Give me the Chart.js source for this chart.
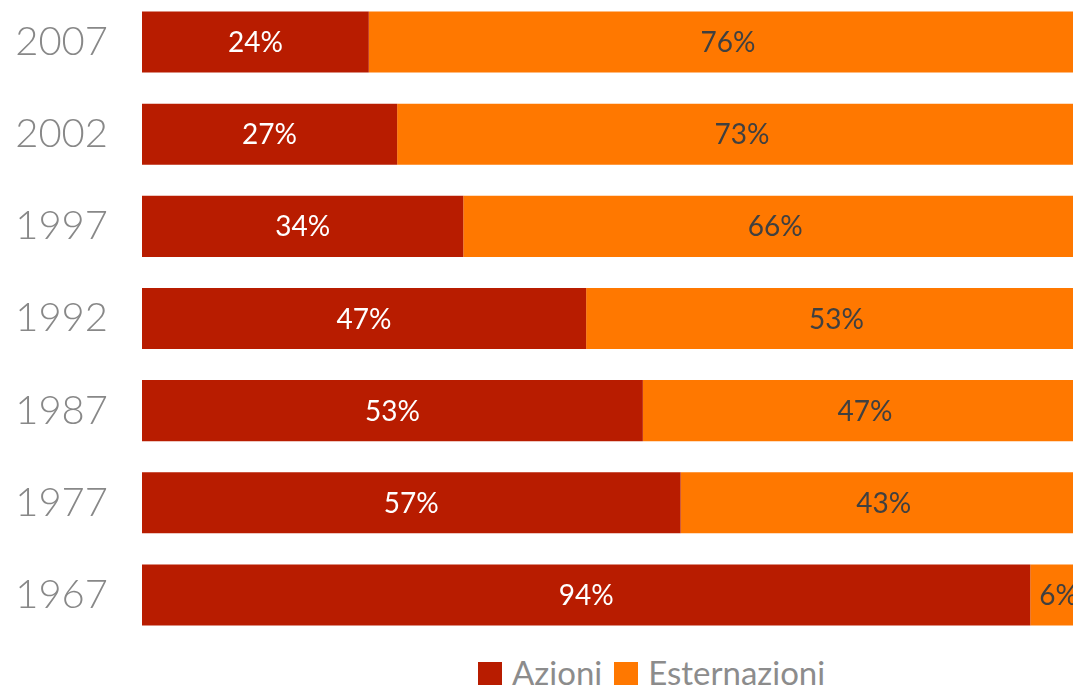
<!DOCTYPE html>
<html>
<head>
<meta charset="utf-8">
<script src="https://cdn.jsdelivr.net/npm/chart.js@4/dist/chart.umd.min.js"></script>
<style>
  html, body { margin: 0; padding: 0; background: #fff; overflow: hidden; }
  #wrap { position: relative; width: 1073px; height: 685px; overflow: hidden; }
  #box { position: absolute; left: 0; top: -4px; width: 1100px; height: 645px; }
  #legend { position: absolute; top: 652px; left: 478px; font-family: Lato, sans-serif; font-size: 33px; color: #8c8c8c; white-space: nowrap; }
  #legend span.sw { display: inline-block; width: 24px; height: 24px; margin-right: 10px; vertical-align: -1px; }
  #legend span.item { margin-right: 12px; }
</style>
</head>
<body>
<div id="wrap">
  <div id="box"><canvas id="barChart"></canvas></div>
  <div id="legend"></div>
</div>
<script>
const years = ["2007", "2002", "1997", "1992", "1987", "1977", "1967"];
const azioni = [24, 27, 34, 47, 53, 57, 94];
const esternazioni = [76, 73, 66, 53, 47, 43, 6];
const seriesNames = ["Azioni", "Esternazioni"];
const colors = ["#b81c00", "#ff7800"];
const labelColors = ["#ffffff", "#404040"];

// draws the percentage inside each segment
const segmentLabels = {
  id: "segmentLabels",
  afterDatasetsDraw(chart) {
    const c = chart.ctx;
    c.save();
    c.font = "28px Lato, sans-serif";
    c.textAlign = "center";
    c.textBaseline = "middle";
    chart.data.datasets.forEach((ds, i) => {
      chart.getDatasetMeta(i).data.forEach((bar, j) => {
        const left = Math.min(bar.x, bar.base);
        const right = Math.max(bar.x, bar.base);
        c.fillStyle = labelColors[i];
        c.fillText(ds.data[j] + "%", (left + right) / 2, bar.y + 1);
      });
    });
    c.restore();
  },
};

const ctx = document.querySelector("#barChart");
new Chart(ctx, {
  type: "bar",
  data: {
    labels: years,
    datasets: [
      { label: seriesNames[0], data: azioni, backgroundColor: colors[0] },
      { label: seriesNames[1], data: esternazioni, backgroundColor: colors[1] },
    ],
  },
  options: {
    indexAxis: "y",
    responsive: true,
    maintainAspectRatio: false,
    animation: false,
    layout: { padding: { right: 13 } },
    datasets: {
      bar: { barPercentage: 0.663, categoryPercentage: 1, borderWidth: 0 },
    },
    plugins: {
      legend: { display: false },
      tooltip: { enabled: false },
    },
    scales: {
      x: { stacked: true, min: 0, max: 100, display: false },
      y: {
        stacked: true,
        grid: { display: false },
        border: { display: false },
        ticks: {
          color: "#888888",
          font: { family: "Lato", size: 40, weight: 300 },
          padding: 26,
        },
        afterFit(scale) {
          scale.width = 142;
          scale.paddingTop = 0;
          scale.paddingBottom = 0;
        },
      },
    },
  },
  plugins: [segmentLabels],
});

// legend as plain text below the chart
document.querySelector("#legend").innerHTML = seriesNames
  .map((n, i) => `<span class="item"><span class="sw" style="background:${colors[i]}"></span>${n}</span>`)
  .join("");
</script>
</body>
</html>
